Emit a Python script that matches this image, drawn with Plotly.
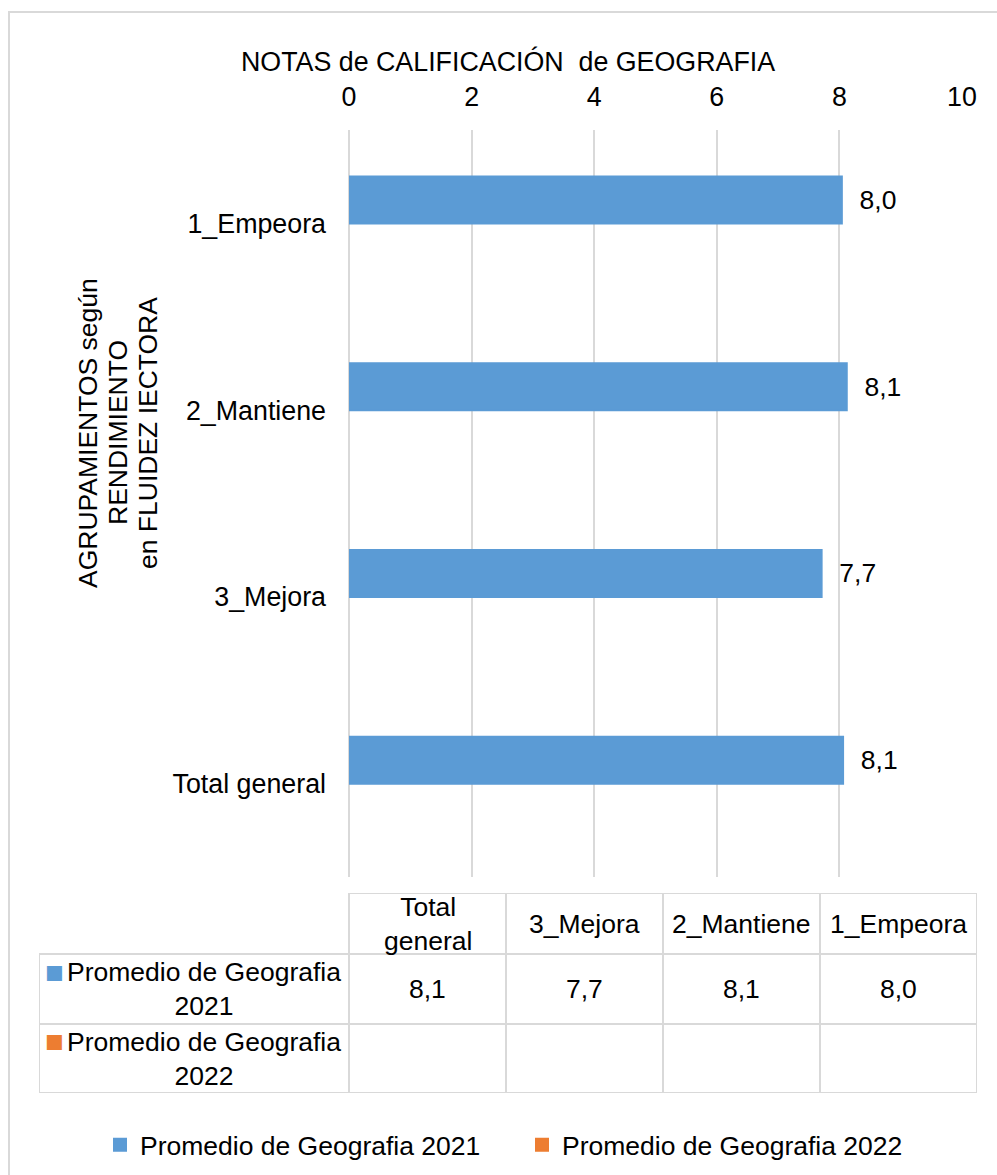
import plotly.graph_objects as go

# ---------------- data ----------------
categories = ["1_Empeora", "2_Mantiene", "3_Mejora", "Total general"]
series_names = ["Promedio de Geografia 2021", "Promedio de Geografia 2022"]
values_2021 = [8.04, 8.12, 7.71, 8.06]
values_2022 = [None, None, None, None]
x_ticks = [0, 2, 4, 6, 8, 10]
title_text = "NOTAS de CALIFICACIÓN  de GEOGRAFIA"
y_title_lines = ["AGRUPAMIENTOS según", "RENDIMIENTO", "en FLUIDEZ IECTORA"]
table_columns = ["Total general", "3_Mejora", "2_Mantiene", "1_Empeora"]
series_colors = ["#5B9BD5", "#ED7D31"]

# ---------------- layout constants ----------------
W, H = 997, 1175
FONT = "Liberation Sans, Arial, sans-serif"
FS = 26.5
FS_AX = 26.8
TXT = "#000000"
GRID = "#D9D9D9"
L, R, T, B = 39, 20, 130, 82
PW, PH = W - L - R, H - T - B


def px_x(px):
    return (px - L) / PW


def px_y(py):
    return (H - B - py) / PH


LABEL_COL = 310 / 157          # width of the row-label column in table-column units
ROW_H = [61, 70, 69]           # header, row 2021, row 2022 (table units)

series_values = [values_2021, values_2022]
fmt = lambda v: f"{v:.1f}".replace(".", ",")

fig = go.Figure()
for name, vals, col in zip(series_names, series_values, series_colors):
    fig.add_trace(go.Bar(
        x=vals, y=categories, orientation="h", name=name,
        marker=dict(color=col, line=dict(width=2, color=col)),
        texttemplate="\u00a0\u00a0%{x:.1f}", textposition="outside",
        textfont=dict(family=FONT, size=FS, color=TXT),
        constraintext="none", cliponaxis=False,
    ))

# helper trace so the table axes exist
fig.add_trace(go.Scatter(x=[], y=[], xaxis="x2", yaxis="y2",
                         showlegend=False, hoverinfo="skip"))

shapes = []
annotations = []

# ---------------- data table ----------------
tot = sum(ROW_H)
edges = [tot, tot - ROW_H[0], tot - ROW_H[0] - ROW_H[1], 0]  # top->bottom
row_center = [(edges[i] + edges[i + 1]) / 2 for i in range(3)]
val_by_cat = [dict(zip(categories, v)) for v in series_values]

for j, colname in enumerate(table_columns):
    for r in range(3):
        shapes.append(dict(type="rect", xref="x2", yref="y2",
                           x0=j, x1=j + 1, y0=edges[r + 1], y1=edges[r],
                           line=dict(color=GRID, width=2), fillcolor="rgba(0,0,0,0)",
                           layer="above"))
    head = colname.replace(" ", "<br>") if len(colname) > 10 else colname
    annotations.append(dict(xref="x2", yref="y2", x=j + 0.5, y=row_center[0],
                            text=head, showarrow=False,
                            font=dict(family=FONT, size=FS, color=TXT)))
    for s in range(2):
        v = val_by_cat[s][colname]
        if v is not None:
            annotations.append(dict(xref="x2", yref="y2", x=j + 0.5, y=row_center[s + 1],
                                    text=fmt(v), showarrow=False,
                                    font=dict(family=FONT, size=FS, color=TXT)))

for s in range(2):
    shapes.append(dict(type="rect", xref="x2", yref="y2",
                       x0=-LABEL_COL, x1=0, y0=edges[s + 2], y1=edges[s + 1],
                       line=dict(color=GRID, width=2), fillcolor="rgba(0,0,0,0)",
                       layer="above"))
    nm = series_names[s]
    head, tail = nm.rsplit(" ", 1)
    annotations.append(dict(xref="x2", yref="y2", x=-LABEL_COL / 2, y=row_center[s + 1],
                            xshift=10, text=f"{head}<br>{tail}", showarrow=False,
                            font=dict(family=FONT, size=FS, color=TXT)))
    annotations.append(dict(xref="x2", yref="y2", x=-LABEL_COL, y=row_center[s + 1],
                            xanchor="left", xshift=4, yshift=17,
                            text="■", showarrow=False,
                            font=dict(family=FONT, size=31, color=series_colors[s])))

# ---------------- titles ----------------
annotations.append(dict(xref="paper", yref="paper", x=0.5, y=px_y(61),
                        xanchor="center", yanchor="middle", text=title_text,
                        showarrow=False, font=dict(family=FONT, size=FS_AX, color=TXT)))
for i, line in enumerate(y_title_lines):
    annotations.append(dict(xref="paper", yref="paper", x=px_x(88 + 30 * i), y=px_y(433),
                            xanchor="center", yanchor="middle", text=line, textangle=-90,
                            showarrow=False, font=dict(family=FONT, size=FS, color=TXT)))

# outer frame
shapes.append(dict(type="rect", xref="paper", yref="paper",
                   x0=px_x(9), x1=px_x(1010), y0=px_y(1190), y1=px_y(12),
                   line=dict(color=GRID, width=2), layer="below"))

fig.update_layout(
    width=W, height=H,
    margin=dict(l=L, r=R, t=T, b=B, autoexpand=False),
    paper_bgcolor="white", plot_bgcolor="white",
    font=dict(family=FONT, size=FS, color=TXT),
    separators=",.",
    barmode="group", bargap=0.497, bargroupgap=0,
    showlegend=True,
    legend=dict(orientation="h", x=px_x(100), y=px_y(1145), xanchor="left",
                yanchor="middle", font=dict(family=FONT, size=FS, color=TXT),
                itemwidth=30, entrywidth=377, entrywidthmode="pixels",
                traceorder="normal", bgcolor="rgba(0,0,0,0)"),
    xaxis=dict(domain=[px_x(349), px_x(962)], range=[0, 10], side="top",
               tickvals=x_ticks, ticktext=[str(t) for t in x_ticks],
               showgrid=True, gridcolor=GRID, gridwidth=2,
               zeroline=True, zerolinecolor=GRID, zerolinewidth=2,
               showline=False, ticks="", ticklabelstandoff=18,
               tickfont=dict(family=FONT, size=FS_AX, color=TXT), fixedrange=True),
    yaxis=dict(domain=[px_y(877), 1], type="category", categoryorder="array",
               categoryarray=categories, autorange="reversed",
               showgrid=False, zeroline=False, showline=False, ticks="",
               ticklabelstandoff=22,
               tickfont=dict(family=FONT, size=FS_AX, color=TXT), fixedrange=True),
    xaxis2=dict(domain=[0, 1], range=[-LABEL_COL, len(table_columns)], anchor="y2",
                visible=False, fixedrange=True),
    yaxis2=dict(domain=[0, px_y(H - B - tot)], range=[0, tot], anchor="x2",
                visible=False, fixedrange=True),
    shapes=shapes,
    annotations=annotations,
)

fig.write_html("out.html")
